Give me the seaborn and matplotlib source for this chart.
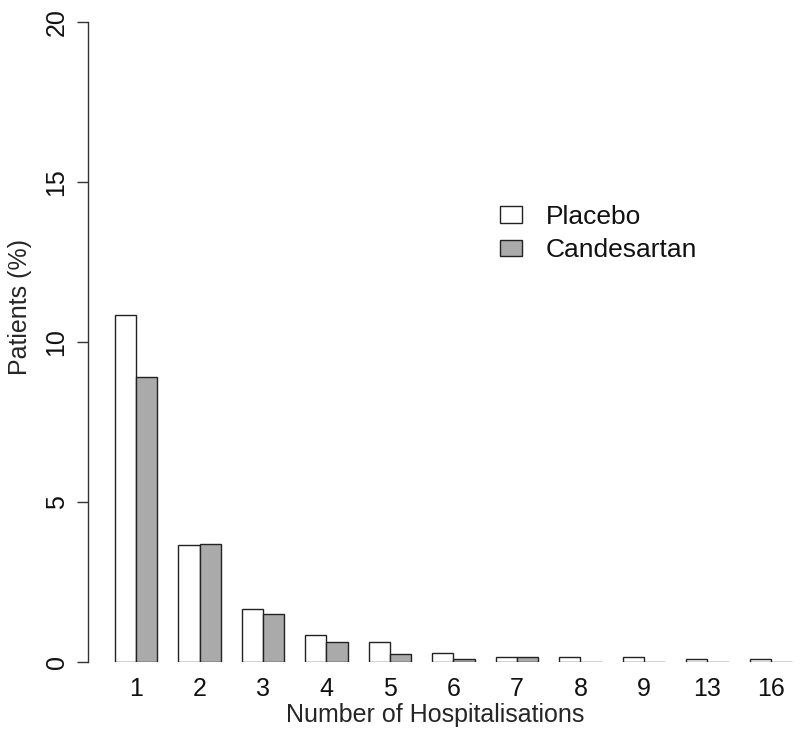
import pandas as pd
import seaborn as sns
import matplotlib.pyplot as plt

# hospitalisation counts and % of patients per arm
hospitalisations = ['1', '2', '3', '4', '5', '6', '7', '8', '9', '13', '16']
placebo = [10.84, 3.66, 1.66, 0.85, 0.61, 0.29, 0.15, 0.15, 0.15, 0.10, 0.10]
candesartan = [8.90, 3.69, 1.50, 0.61, 0.26, 0.09, 0.15, 0.0, 0.0, 0.0, 0.0]

df = pd.DataFrame({
    'Hospitalisations': hospitalisations * 2,
    'Patients': placebo + candesartan,
    'Group': ['Placebo'] * len(placebo) + ['Candesartan'] * len(candesartan),
})

sns.set_style('white')
plt.rcParams['font.family'] = ['Liberation Sans', 'DejaVu Sans']
plt.rcParams['text.color'] = '#111111'

fig = plt.figure(figsize=(8, 7.45), dpi=100)
ax = fig.add_axes([88 / 800, 1 - 662 / 745, 712 / 800, 640 / 745])

sns.barplot(data=df, x='Hospitalisations', y='Patients', hue='Group',
            order=hospitalisations, hue_order=['Placebo', 'Candesartan'],
            palette={'Placebo': 'white', 'Candesartan': '#aaaaaa'},
            width=2 / 3, edgecolor='#222222', linewidth=1, ax=ax, legend=False)

ax.set_xlim(-0.756, 10.457)
ax.set_ylim(0, 20)
for side in ['top', 'right', 'bottom']:
    ax.spines[side].set_visible(False)
ax.spines['left'].set_color('#333333')
ax.spines['left'].set_linewidth(1)

ax.set_yticks([0, 5, 10, 15, 20])
ax.tick_params(axis='y', left=True, length=8, width=1, color='#333333',
               labelsize=18, labelcolor='#111111', pad=6)
for lbl in ax.get_yticklabels():
    lbl.set_rotation(90)
    lbl.set_va('center')
ax.tick_params(axis='x', length=0, labelsize=18, labelcolor='#111111', pad=11)

ax.set_xlabel('Number of Hospitalisations', fontsize=18)
ax.set_ylabel('Patients (%)', fontsize=18)
ax.xaxis.set_label_coords(0.487, -0.064)
ax.yaxis.set_label_coords(-0.078, 0.555)

handles = [plt.Rectangle((0, 0), 1, 1, facecolor='white', edgecolor='#222222', linewidth=1),
           plt.Rectangle((0, 0), 1, 1, facecolor='#aaaaaa', edgecolor='#222222', linewidth=1)]
fig.legend(handles, ['Placebo', 'Candesartan'], loc='upper left',
           bbox_to_anchor=(476 / 800, 1 - 181 / 745), frameon=False,
           fontsize=19, handlelength=0.83, handleheight=0.57, handletextpad=0.9,
           labelspacing=0.36)

fig.savefig('out.png', dpi=100)
